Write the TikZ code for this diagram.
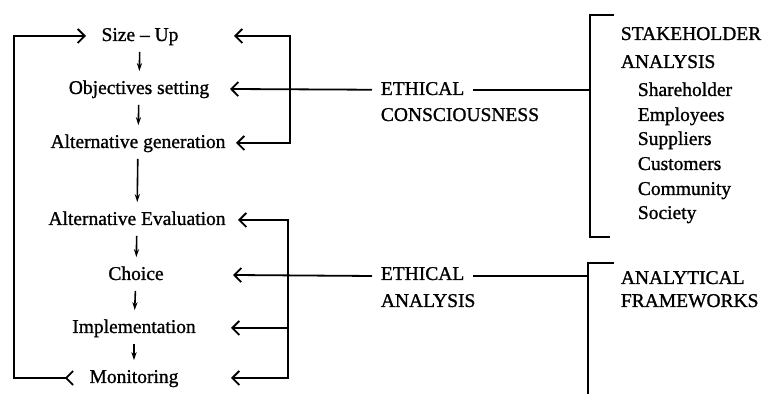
\documentclass[tikz,border=0pt]{standalone}
\usepackage{fontspec}
\setmainfont{Liberation Serif}
\newfontfamily\heavyserif{Liberation Serif}[FakeBold=1.1, Ligatures=TeX]
\usetikzlibrary{arrows.meta}
\tikzset{every picture/.append style={x=0.5pt, y=-0.5pt}}
\tikzset{
    every node/.style={font=\heavyserif\fontsize{9.75}{11}\selectfont, text height=7pt, text depth=2pt},
    chev/.tip={Straight Barb[length=3.5pt, width=7pt, line width=0.9pt]},
    stage/.style={inner sep=3pt},
    caps/.style={anchor=west, inner sep=4pt},
    item/.style={anchor=west, inner sep=0pt},
    flow/.style={-{Stealth[length=4pt, width=2.6pt]}, line width=0.8pt, shorten >=1pt},
    wire/.style={line width=0.9pt}
}

\begin{document}
\begin{tikzpicture}[wire]
	\useasboundingbox (0,0) rectangle (762,394);

	\node (su) [stage] at (140,36) {Size -- Up};
	\node (os) [stage] at (139,89) {Objectives setting};
	\node (ag) [stage] at (138,143) {Alternative generation};
	\node (ae) [stage] at (137,220) {Alternative Evaluation};
	\node (ch) [stage] at (136,275) {Choice};
	\node (im) [stage] at (134,328) {Implementation};
	\node (mo) [stage] at (134,378) {Monitoring};

	\node (e1) [caps] at (372,90) {ETHICAL};
	\node (e2) [caps] at (372,116) {CONSCIOUSNESS};
	\node (e3) [caps] at (372,275) {ETHICAL};
	\node (e4) [caps] at (372,302) {ANALYSIS};

	\node (st1) [item] at (620,35) {STAKEHOLDER};
	\node (st2) [item] at (620,63) {ANALYSIS};
	\node (st3) [item] at (637,91) {Shareholder};
	\node (st4) [item] at (637,116) {Employees};
	\node (st5) [item] at (637,140) {Suppliers};
	\node (st6) [item] at (637,165) {Customers};
	\node (st7) [item] at (637,190) {Community};
	\node (st8) [item] at (637,214) {Society};

	\node (af1) [item] at (620,279) {ANALYTICAL};
	\node (af2) [item] at (620,302) {FRAMEWORKS};

	% bracket corners and arrow ends
	\coordinate (tsu) at (234,36);  \coordinate (tos) at (230,89);
	\coordinate (tag) at (236,143); \coordinate (tae) at (238,220);
	\coordinate (tch) at (233,275); \coordinate (tim) at (231,328);
	\coordinate (tmo) at (231,378);
	\coordinate (r1) at (290,36);   \coordinate (r3) at (290,143);
	\coordinate (r4) at (288,220);  \coordinate (r6) at (288,328);
	\coordinate (r7) at (288,378);
	\coordinate (l1) at (14,36);    \coordinate (l2) at (14,378);
	\coordinate (lsu) at (86,36);   \coordinate (lmo) at (74,378);
	\coordinate (s1) at (614,15);   \coordinate (s2) at (590,15);
	\coordinate (s3) at (590,237);  \coordinate (s4) at (610,237);
	\coordinate (s0) at (590,90);
	\coordinate (a1) at (614,263);  \coordinate (a2) at (588,263);
	\coordinate (a3) at (588,394);  \coordinate (a0) at (588,276);

	\draw[flow] (su) edge (os); \draw[flow] (os) edge (ag);
	\draw[flow] (ag) edge (ae); \draw[flow] (ae) edge (ch);
	\draw[flow] (ch) edge (im); \draw[flow] (im) edge (mo);

	\draw[{chev[reversed]}-chev] (lmo) -- (l2) -- (l1) -- (lsu);

	\draw[chev-chev] (tsu) -- (r1) -- (r3) -- (tag);
	\draw[-chev] (e1) -- (tos);
	\draw[chev-chev] (tae) -- (r4) -- (r7) -- (tmo);
	\draw[-chev] (e3.west |- a0) -- (tch);
	\draw[-chev] (r6) -- (tim);

	\draw (e1) -- (s0);
	\draw (s1) -- (s2) -- (s3) -- (s4);
	\draw (e3.east |- a0) -- (a0);
	\draw (a1) -- (a2) -- (a3);
\end{tikzpicture}
\end{document}
